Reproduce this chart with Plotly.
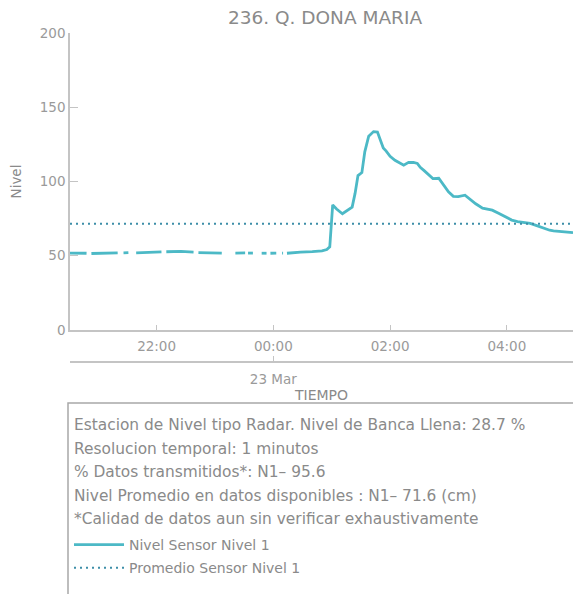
import plotly.graph_objects as go

# ---------------- data ----------------
station_title = "236. Q. DONA MARIA"
mean_level = 71.6

level_times = [
    "2024-03-22 20:31", "2024-03-22 20:40", "2024-03-22 20:48", "2024-03-22 20:50",
    "2024-03-22 20:53", "2024-03-22 21:05", "2024-03-22 21:20", "2024-03-22 21:23",
    "2024-03-22 21:26", "2024-03-22 21:31", "2024-03-22 21:35",
    "2024-03-22 21:39", "2024-03-22 21:50", "2024-03-22 22:05", "2024-03-22 22:08",
    "2024-03-22 22:10", "2024-03-22 22:25", "2024-03-22 22:38", "2024-03-22 22:40",
    "2024-03-22 22:43", "2024-03-22 22:55", "2024-03-22 23:07", "2024-03-22 23:14",
    "2024-03-22 23:21", "2024-03-22 23:31", "2024-03-22 23:32",
    "2024-03-22 23:34", "2024-03-22 23:39", "2024-03-22 23:44",
    "2024-03-22 23:48", "2024-03-22 23:53", "2024-03-22 23:55",
    "2024-03-22 23:57", "2024-03-23 00:03", "2024-03-23 00:06",
    "2024-03-23 00:09", "2024-03-23 00:10", "2024-03-23 00:12",
    "2024-03-23 00:14", "2024-03-23 00:20", "2024-03-23 00:28", "2024-03-23 00:40",
    "2024-03-23 00:50", "2024-03-23 00:55", "2024-03-23 00:58", "2024-03-23 01:01",
    "2024-03-23 01:05", "2024-03-23 01:11", "2024-03-23 01:16", "2024-03-23 01:21",
    "2024-03-23 01:24", "2024-03-23 01:27", "2024-03-23 01:31", "2024-03-23 01:34",
    "2024-03-23 01:38", "2024-03-23 01:43", "2024-03-23 01:47", "2024-03-23 01:50",
    "2024-03-23 01:53", "2024-03-23 01:56", "2024-03-23 02:00", "2024-03-23 02:05",
    "2024-03-23 02:10", "2024-03-23 02:14", "2024-03-23 02:19", "2024-03-23 02:24",
    "2024-03-23 02:28", "2024-03-23 02:31", "2024-03-23 02:35", "2024-03-23 02:40",
    "2024-03-23 02:44", "2024-03-23 02:50", "2024-03-23 02:55", "2024-03-23 03:00",
    "2024-03-23 03:05", "2024-03-23 03:10", "2024-03-23 03:17", "2024-03-23 03:22",
    "2024-03-23 03:28", "2024-03-23 03:35", "2024-03-23 03:40", "2024-03-23 03:45",
    "2024-03-23 03:52", "2024-03-23 03:59", "2024-03-23 04:05", "2024-03-23 04:11",
    "2024-03-23 04:18", "2024-03-23 04:24", "2024-03-23 04:30", "2024-03-23 04:38",
    "2024-03-23 04:44", "2024-03-23 04:48", "2024-03-23 04:55", "2024-03-23 05:00",
    "2024-03-23 05:08",
]
level_values = [
    51.8, 52.0, 51.7, None,
    51.5, 51.6, 51.9, None,
    52.0, 52.1, None,
    52.0, 52.2, 52.6, None,
    52.7, 52.9, 52.5, None,
    52.1, 51.9, 51.8, None,
    51.8, 51.9, None,
    51.8, 51.8, None,
    51.7, 51.7, None,
    51.7, 51.8, None,
    51.8, 51.8, None,
    51.7, 51.8, 52.4, 52.8,
    53.3, 54.2, 56.0, 84.2,
    81.5, 78.3, 80.5, 82.8,
    92.0, 104.0, 106.0, 120.0,
    130.5, 133.6, 133.3, 127.5,
    122.5, 120.5, 117.0, 114.3,
    112.5, 111.0, 112.9, 112.8,
    112.2, 109.5, 107.3, 104.5,
    102.0, 102.2, 98.0, 93.0,
    90.0, 89.8, 90.8, 88.0,
    85.0, 82.0, 81.5, 80.7,
    78.5, 76.3, 74.0, 73.0,
    72.3, 71.8, 70.5, 68.5,
    67.2, 66.8, 66.2, 65.8,
    65.5,
]
mean_times = ["2024-03-22 20:31", "2024-03-23 05:08"]
mean_values = [mean_level, mean_level]

x_range = ["2024-03-22 20:31", "2024-03-23 05:08"]
y_ticks = [0, 50, 100, 150, 200]

info_lines = [
    "Estacion de Nivel tipo Radar. Nivel de Banca Llena: 28.7 %",
    "Resolucion temporal: 1 minutos",
    "% Datos transmitidos*: N1\u2013 95.6",
    "Nivel Promedio en datos disponibles : N1\u2013 71.6 (cm)",
    "*Calidad de datos aun sin verificar exhaustivamente",
]
series_names = ["Nivel Sensor Nivel 1", "Promedio Sensor Nivel 1"]

# ---------------- styling ----------------
FONT = "DejaVu Sans"
TXT = "#8a8a8a"
TICK = "#9a9a9a"
AX = "#c4c4c4"
LINE_C = "#4cb9c6"
MEAN_C = "#3d8ea8"

W, H = 573, 594
MT, MB, ML, MR = 33, 232, 70, 0
PH = H - MT - MB  # paper height in px


def py(px_y):
    return (H - MB - px_y) / PH


def px_x(px):
    return (px - ML) / (W - ML - MR)


fig = go.Figure()
fig.add_trace(go.Scatter(
    x=level_times, y=level_values, mode="lines", name=series_names[0],
    line=dict(color=LINE_C, width=2.8), connectgaps=False,
    legendgroup="a", xaxis="x", yaxis="y",
))
fig.add_trace(go.Scatter(
    x=mean_times, y=mean_values, mode="lines", name=series_names[1],
    line=dict(color=MEAN_C, width=2, dash="2px,4px"),
    legendgroup="b", xaxis="x2", yaxis="y",
))

axis_common = dict(showgrid=False, zeroline=False, showline=True,
                   linecolor=AX, linewidth=1.5, ticks="inside", tickcolor=AX,
                   tickwidth=1.2, tickfont=dict(family=FONT, size=13.5, color=TICK))

fig.update_layout(
    width=W, height=H,
    margin=dict(l=ML, r=MR, t=MT, b=MB, autoexpand=False),
    paper_bgcolor="white", plot_bgcolor="white",
    font=dict(family=FONT, color=TXT),
    title=dict(text=station_title, x=325 / W, xanchor="center", xref="container",
               y=1 - 18 / H, yanchor="middle", yref="container",
               font=dict(family=FONT, size=18.5, color=TXT)),
    xaxis=dict(**axis_common, type="date", range=x_range, anchor="y",
               tickformat="%H:%M", dtick=2 * 3600 * 1000,
               tick0="2024-03-22 22:00", ticklen=5, ticklabelstandoff=3),
    xaxis2=dict(**axis_common, type="date", range=x_range, overlaying="x",
                anchor="free", position=0, side="bottom",
                tickformat="%d %b", dtick=24 * 3600 * 1000,
                tick0="2024-03-23 00:00", ticklen=5, ticklabelstandoff=5,
                title=dict(text="TIEMPO", standoff=3,
                           font=dict(family=FONT, size=14, color=TXT))),
    yaxis=dict(**axis_common, domain=[py(330), 1], range=[0, 200],
               tickvals=y_ticks, ticklen=8,
               title=dict(text="Nivel", font=dict(family=FONT, size=13.5, color=TXT))),
    showlegend=True,
    legend=dict(x=px_x(69), xanchor="left", y=py(529), yanchor="top",
                bgcolor="rgba(0,0,0,0)", borderwidth=0,
                traceorder="grouped", tracegroupgap=2, itemwidth=50,
                font=dict(family=FONT, size=14, color=TXT)),
)

# info box
fig.add_shape(type="rect", xref="paper", yref="paper",
              x0=px_x(68), x1=1.05, y0=py(403), y1=py(640),
              line=dict(color="#a8a8a8", width=1.5), fillcolor="rgba(0,0,0,0)")

for txt, yc in zip(info_lines, [425, 449, 472, 496, 519]):
    fig.add_annotation(text=txt, xref="paper", yref="paper",
                       x=px_x(72), y=py(yc), xanchor="left", yanchor="middle",
                       showarrow=False, font=dict(family=FONT, size=15.4, color=TXT))

fig.write_html(
    "out.html",
    config={"displayModeBar": False},
    post_script="document.body.style.margin='0';document.body.style.overflow='hidden';",
)
